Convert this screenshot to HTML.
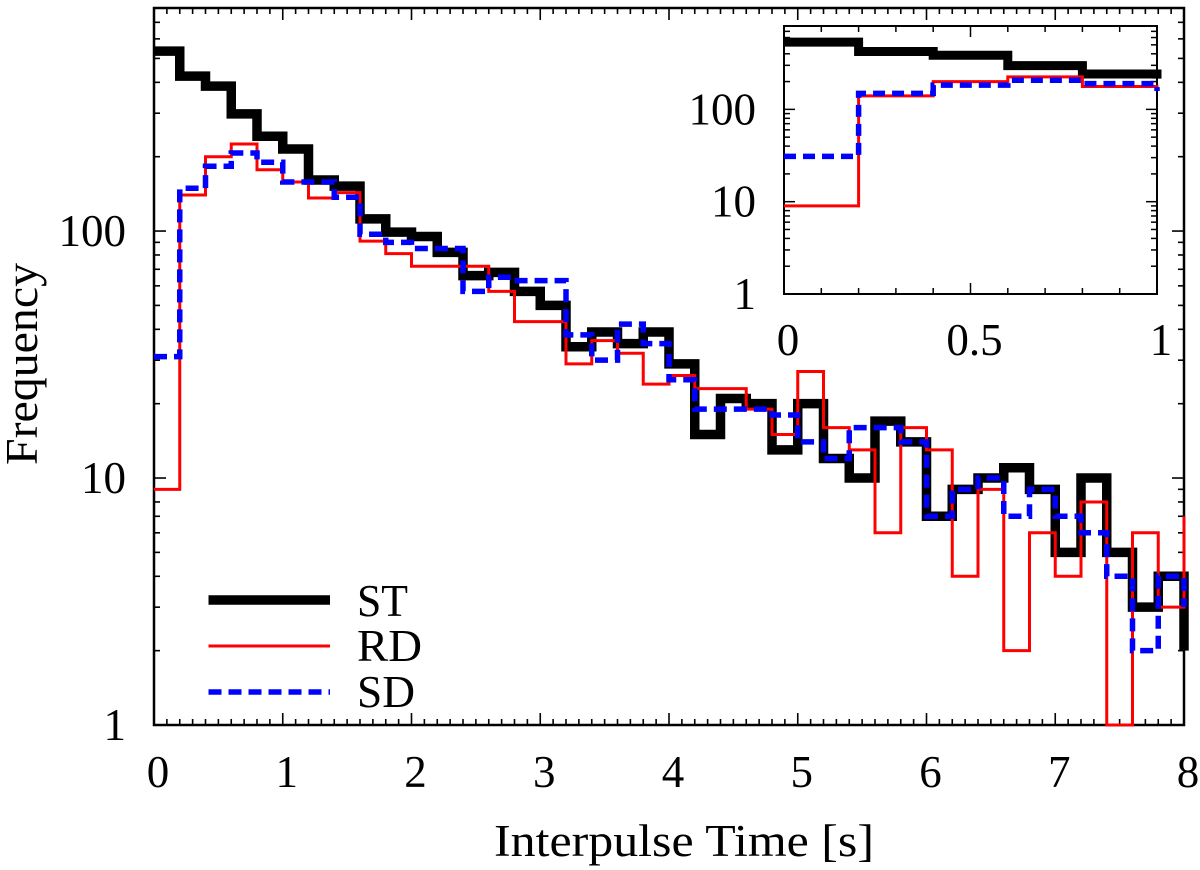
<!DOCTYPE html>
<html lang="en">
<head>
<meta charset="utf-8">
<title>Interpulse Time Histogram</title>
<style>
  html, body { margin: 0; padding: 0; background: #fff; }
  body { width: 1200px; height: 870px; overflow: hidden; }
  svg { display: block; }
  text { font-family: "Liberation Serif", serif; fill: #000; }
</style>
</head>
<body>
<svg id="chart" xmlns="http://www.w3.org/2000/svg" width="1200" height="870" viewBox="0 0 1200 870">
  <rect x="0" y="0" width="1200" height="870" fill="#fff"/>
  <g id="main-axes"></g>
  <g id="main-series"></g>
  <g id="inset-axes"></g>
  <g id="inset-series"></g>
  <text x="494" y="856" font-size="45" textLength="380" lengthAdjust="spacingAndGlyphs">Interpulse Time [s]</text>
  <text transform="translate(37,465) rotate(-90)" font-size="45" textLength="202" lengthAdjust="spacingAndGlyphs">Frequency</text>
  <g>
    <line x1="208.5" x2="330" y1="600" y2="600" stroke="#000" stroke-width="9.5"/>
    <text x="357" y="616" font-size="45" textLength="51" lengthAdjust="spacingAndGlyphs">ST</text>
    <line x1="208.5" x2="330" y1="646" y2="646" stroke="#f00" stroke-width="3"/>
    <text x="357" y="661" font-size="45" textLength="65" lengthAdjust="spacingAndGlyphs">RD</text>
    <line x1="208.5" x2="330" y1="692" y2="692" stroke="#00f" stroke-width="5.5" stroke-dasharray="13 7"/>
    <text x="357" y="707" font-size="45" textLength="58" lengthAdjust="spacingAndGlyphs">SD</text>
  </g>
</svg>
<script>
// Bin left edges in seconds; the final entry is the overflow bin starting at the axis limit.
const binStarts = [0,0.2,0.4,0.6,0.8,1,1.2,1.4,1.6,1.8,2,2.2,2.4,2.6,2.8,3,3.2,3.4,3.6,3.8,4,4.2,4.4,4.6,4.8,5,5.2,5.4,5.6,5.8,6,6.2,6.4,6.6,6.8,7,7.2,7.4,7.6,7.8,8];
const stValues = [535,424,386,298,242,215,161,152,112,99,95,82,66,68,57,50,34,39,35,39,29,15,21,20,13,20,12,10,17,14,7,9,10,11,9,5,10,5,3,4,2];
const rdValues = [9,140,200,225,177,158,136,143,91,81,72,72,72,57,43,43,29,36,32,24,26,23,23,19,15,27,16,13,6,16,13,4,9,2,6,4,8,1,6,3,7];
const sdValues = [31,149,183,207,190,158,158,137,97,90,85,85,57,65,63,63,38,30,42,35,25,19,19,19,18,14,12,16,16,14,7,9,10,7,9,7,6,4,2,4,3];

const binWidth = 0.2;
const mainXTicks = [0,1,2,3,4,5,6,7,8];
const mainXLabels = ["0","1","2","3","4","5","6","7","8"];
const mainYTicks = [1,10,100];
const mainYLabels = ["1","10","100"];
const insetXTicks = [0,0.5,1];
const insetXLabels = ["0","0.5","1"];
const insetYTicks = [1,10,100];
const insetYLabels = ["1","10","100"];

const NS = "http://www.w3.org/2000/svg";
const yMin = 1, yMax = 800;

function makeLinear(d0, d1, r0, r1) { return v => r0 + (v - d0) / (d1 - d0) * (r1 - r0); }
function makeLog(d0, d1, r0, r1) { return v => r0 + (Math.log10(v) - Math.log10(d0)) / (Math.log10(d1) - Math.log10(d0)) * (r1 - r0); }

const mainBox = { left: 154, right: 1184, top: 8, bottom: 725 };
const insetBox = { left: 784, right: 1157, top: 26, bottom: 294 };
const xMain = makeLinear(0, 8, mainBox.left, mainBox.right);
const yMain = makeLog(yMin, yMax, mainBox.bottom, mainBox.top);
const xInset = makeLinear(0, 1, insetBox.left, insetBox.right);
const yInset = makeLog(yMin, yMax, insetBox.bottom, insetBox.top);

function mk(parent, tag, attrs) {
  const el = document.createElementNS(NS, tag);
  for (const k in attrs) el.setAttribute(k, attrs[k]);
  parent.appendChild(el);
  return el;
}

function stepPath(values, xScale, yScale, xLimit) {
  let d = "";
  for (let i = 0; i < binStarts.length - 1; i++) {
    const x0 = binStarts[i], x1 = x0 + binWidth;
    if (x0 >= xLimit - 1e-9) break;
    d += (i === 0 ? "M" : "L") + xScale(x0).toFixed(2) + " " + yScale(values[i]).toFixed(2);
    d += "L" + xScale(x1).toFixed(2) + " " + yScale(values[i]).toFixed(2);
    if (Math.abs(x1 - xLimit) < 1e-9) {
      d += "L" + xScale(x1).toFixed(2) + " " + yScale(values[i + 1]).toFixed(2);
    }
  }
  return d;
}

function drawSeries(group, xScale, yScale, xLimit, prefix, widths, dash) {
  const st = mk(group, "path", { d: stepPath(stValues, xScale, yScale, xLimit), fill: "none", stroke: "#000", "stroke-width": widths[0], "stroke-linejoin": "miter" });
  
  
  const rd = mk(group, "path", { d: stepPath(rdValues, xScale, yScale, xLimit), fill: "none", stroke: "#f00", "stroke-width": widths[1], "stroke-linejoin": "miter" });
  
  
  const sd = mk(group, "path", { d: stepPath(sdValues, xScale, yScale, xLimit), fill: "none", stroke: "#00f", "stroke-width": widths[2], "stroke-dasharray": dash, "stroke-linejoin": "miter" });
  
  
}

function drawAxes(group, box, xScale, yScale, prefix, opts) {
  const frame = mk(group, "rect", { x: box.left, y: box.top, width: box.right - box.left, height: box.bottom - box.top, fill: "none", stroke: "#000", "stroke-width": opts.frameWidth });
  
  

  function tickPair(x1, y1, dx, dy, x2, y2) {
    const a = mk(group, "line", { x1: x1, y1: y1, x2: x1 + dx, y2: y1 + dy, stroke: "#000", "stroke-width": opts.tickWidth });
    
    
    const b = mk(group, "line", { x1: x2, y1: y2, x2: x2 - dx, y2: y2 - dy, stroke: "#000", "stroke-width": opts.tickWidth });
    
    
  }

  for (let i = 0; i <= opts.xMinorCount; i++) {
    const v = opts.xMax * i / opts.xMinorCount;
    const major = opts.xTicks.some(t => Math.abs(t - v) < 1e-9);
    const len = major ? opts.majorLen : opts.minorLen;
    const x = xScale(v);
    tickPair(x, box.bottom, 0, -len, x, box.top);
  }
  for (let dec = 1; dec <= 100; dec *= 10) {
    for (let m = 1; m <= 9; m++) {
      const v = dec * m;
      if (v > yMax) continue;
      const len = m === 1 ? opts.majorLen : opts.minorLen;
      const y = yScale(v);
      tickPair(box.left, y, len, 0, box.right, y);
    }
  }
  opts.xTicks.forEach((t, i) => {
    const lbl = mk(group, "text", { x: xScale(t) + opts.xLabelDx, y: opts.xLabelY, "text-anchor": "middle", "font-size": opts.fontSize });
    
    
    lbl.textContent = opts.xLabels[i];
  });
  opts.yTicks.forEach((t, i) => {
    const lbl = mk(group, "text", { x: opts.yLabelX, y: yScale(t) + opts.yLabelDy, "text-anchor": "end", "font-size": opts.fontSize });
    
    
    lbl.textContent = opts.yLabels[i];
  });
}

drawAxes(document.getElementById("main-axes"), mainBox, xMain, yMain, "main", {
  frameWidth: 2.5, tickWidth: 1.6, majorLen: 12, minorLen: 6,
  xMax: 8, xMinorCount: 80, xTicks: mainXTicks, xLabels: mainXLabels,
  yTicks: mainYTicks, yLabels: mainYLabels,
  xLabelDx: 4, xLabelY: 787, yLabelX: 126, yLabelDy: 15, fontSize: 45
});
drawSeries(document.getElementById("main-series"), xMain, yMain, 8, "main", [9.5, 3, 5.5], "13 7");

drawAxes(document.getElementById("inset-axes"), insetBox, xInset, yInset, "inset", {
  frameWidth: 2, tickWidth: 1.5, majorLen: 11, minorLen: 6,
  xMax: 1, xMinorCount: 10, xTicks: insetXTicks, xLabels: insetXLabels,
  yTicks: insetYTicks, yLabels: insetYLabels,
  xLabelDx: 4, xLabelY: 355, yLabelX: 756, yLabelDy: 15, fontSize: 45
});
drawSeries(document.getElementById("inset-series"), xInset, yInset, 1, "inset", [9, 3, 5.5], "12 7");
</script>
</body>
</html>
